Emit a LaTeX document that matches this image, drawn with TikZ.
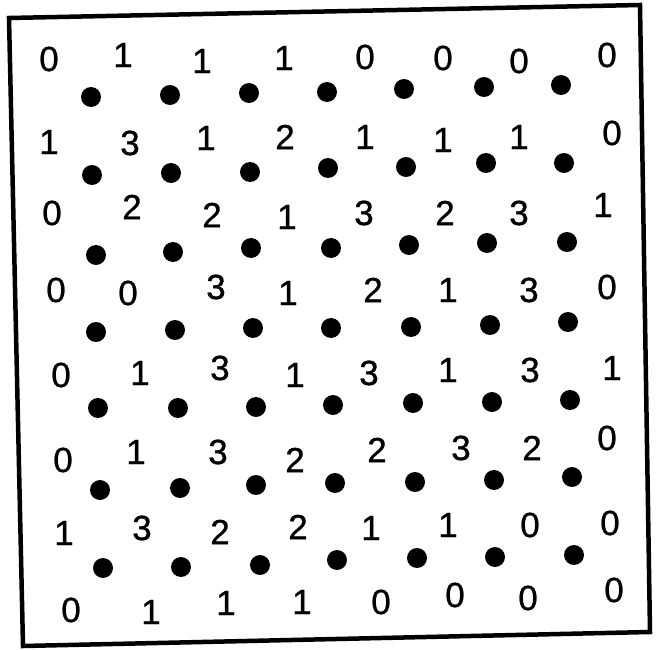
\documentclass[tikz,border=0pt]{standalone}
\usepackage{fontspec}
\setmainfont{Liberation Sans}
\newfontfamily\numfont{Liberation Sans}[FakeBold=0.8]
\begin{document}
\begin{tikzpicture}[x=1pt,y=-1pt,
  num/.style={font=\numfont\fontsize{35}{40}\selectfont, inner sep=0pt},
  dot/.style={circle, fill=black, minimum size=20pt, inner sep=0pt}]
\useasboundingbox (0,0) rectangle (657,650);
\draw[line width=4.5pt, line join=miter] (9,18) -- (640,5) -- (650,632) -- (23,646) -- cycle;

% numbers, row by row
\foreach \x/\y/\t [count=\i] in {49/59/0, 123/55/1, 202/61/1, 284/58/1, 365/57/0, 443/58/0, 519/61/0, 607/55/0,
  49/142/1, 130/143/3, 206/138/1, 285/137/2, 365/137/1, 443/140/1, 519/137/1, 612/133/0,
  52/213/0, 132/207/2, 212/215/2, 287/217/1, 364/213/3, 445/213/2, 519/213/3, 603/205/1,
  56/290/0, 128/293/0, 216/287/3, 288/293/1, 373/290/2, 448/290/1, 529/290/3, 607/287/0,
  61/375/0, 140/373/1, 220/368/3, 295/375/1, 369/373/3, 448/370/1, 530/370/3, 612/368/1,
  63/460/0, 136/452/1, 218/452/3, 295/460/2, 377/450/2, 461/448/3, 532/448/2, 607/438/0,
  64/533/1, 142/528/3, 220/532/2, 298/527/2, 371/528/1, 448/525/1, 530/525/0, 610/523/0,
  71/610/0, 151/612/1, 226/603/1, 302/602/1, 381/602/0, 455/595/0, 528/598/0, 614/590/0}
  \node[num] (num\i) at (\x,\y) {\t};

% dots between the rows
\foreach \x/\y [count=\i] in {91/97, 170/95, 249/93, 327/92, 404/89, 484/87, 561/85,
  92/175, 171/173, 250/172, 328/168, 406/167, 486/163, 564/163,
  96/255, 173/252, 251/248, 331/248, 409/245, 487/243, 567/242,
  96/332, 175/330, 253/328, 331/328, 411/327, 490/325, 568/322,
  98/408, 178/408, 256/407, 333/405, 413/403, 492/402, 570/400,
  100/490, 180/488, 256/485, 335/483, 415/482, 494/480, 572/477,
  103/568, 181/567, 260/565, 337/560, 417/558, 495/557, 574/555}
  \node[dot] (dot\i) at (\x,\y) {};
\end{tikzpicture}
\end{document}
